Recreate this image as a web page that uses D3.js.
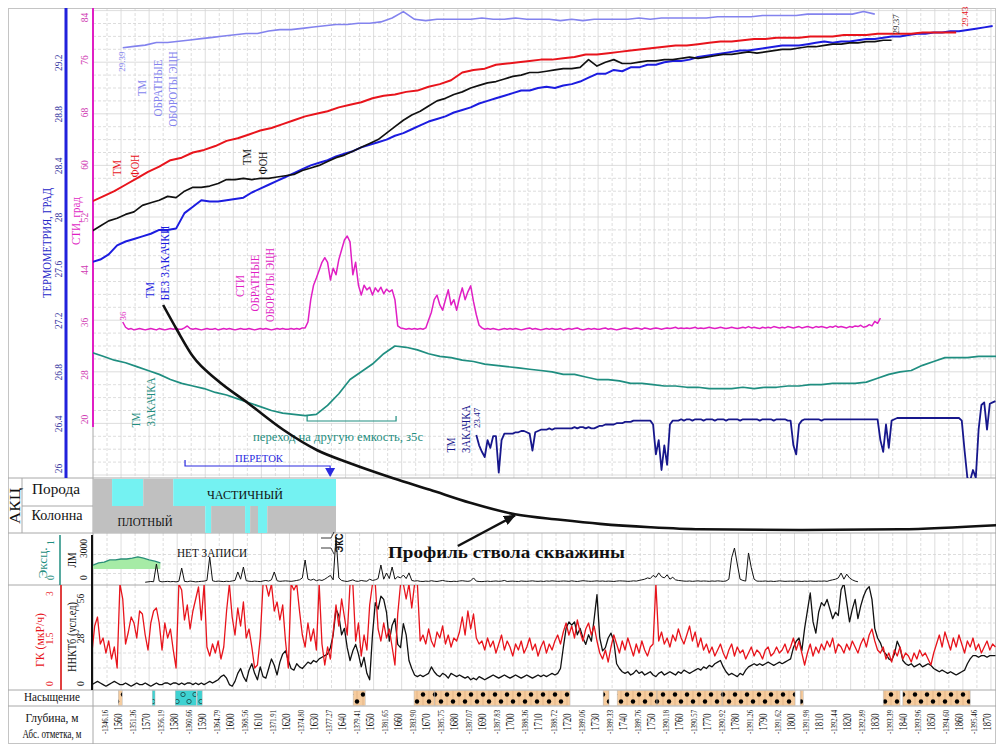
<!DOCTYPE html>
<html lang="ru">
<head>
<meta charset="utf-8">
<title>Термометрия скважины</title>
<script src="https://cdn.jsdelivr.net/npm/d3@7/dist/d3.min.js"></script>
<style>
  html, body { margin: 0; padding: 0; background: #fff; }
  svg { display: block; }
</style>
</head>
<body>
<svg id="chart" width="996" height="744"></svg>
<script>
// ---------- depth axis ----------
const depthTicks = [1560,1570,1580,1590,1600,1610,1620,1630,1640,1650,1660,1670,1680,1690,1700,1710,
  1720,1730,1740,1750,1760,1770,1780,1790,1800,1810,1820,1830,1840,1850,1860,1870];
const absDepths = [1555,1565,1575,1585,1595,1605,1615,1625,1635,1645,1655,1665,1675,1685,1695,1705,
  1715,1725,1735,1745,1755,1765,1775,1785,1795,1805,1815,1825,1835,1845,1855,1865];
const absLabels = ["-1346.16","-1351.36","-1356.19","-1360.66","-1364.79","-1368.56","-1371.91","-1374.80",
  "-1377.27","-1379.41","-1381.65","-1383.90","-1385.75","-1387.07","-1387.83","-1388.36","-1388.72",
  "-1389.06","-1389.33","-1389.76","-1390.18","-1390.57","-1390.92","-1391.26","-1391.62","-1391.98",
  "-1392.44","-1392.89","-1393.39","-1393.96","-1394.60","-1395.46"];
const tempTicks = [26, 26.4, 26.8, 27.2, 27.6, 28, 28.4, 28.8, 29.2];
const stiTicks = [20, 28, 36, 44, 52, 60, 68, 76, 84];

// ---------- thermometry, °C (start depth, step m, values) ----------
const tmFonRedStart = 1549.6, tmFonRedStep = 4;
const tmFonRed = [28.12,28.16,28.20,28.25,28.30,28.35,28.39,28.44,28.46,28.50,
  28.52,28.55,28.59,28.61,28.64,28.67,28.69,28.72,28.75,28.78,
  28.80,28.82,28.85,28.87,28.89,28.92,28.94,28.95,28.97,28.98,
  29.01,29.03,29.06,29.12,29.14,29.15,29.18,29.19,29.20,29.21,
  29.22,29.22,29.23,29.24,29.26,29.26,29.27,29.28,29.29,29.30,
  29.31,29.32,29.33,29.33,29.34,29.35,29.36,29.36,29.37,29.38,
  29.38,29.39,29.39,29.39,29.40,29.40,29.40,29.41,29.41,29.41,
  29.42,29.42,29.42,29.42,29.43,29.43,29.43,29.43];

const tmFonBlackStart = 1549.6, tmFonBlackStep = 3;
const tmFonBlack = [27.89,27.93,27.97,27.99,28.02,28.04,28.09,28.11,28.13,28.16,
  28.15,28.20,28.23,28.23,28.24,28.26,28.29,28.29,28.30,28.29,
  28.30,28.30,28.31,28.32,28.33,28.36,28.38,28.40,28.43,28.46,
  28.48,28.51,28.54,28.57,28.60,28.65,28.70,28.75,28.79,28.82,
  28.86,28.90,28.92,28.95,28.97,29.00,29.02,29.04,29.05,29.07,
  29.09,29.10,29.12,29.12,29.13,29.14,29.15,29.15,29.16,29.22,
  29.17,29.20,29.22,29.19,29.19,29.20,29.21,29.21,29.22,29.22,
  29.23,29.24,29.23,29.24,29.25,29.26,29.26,29.27,29.28,29.27,
  29.28,29.29,29.30,29.30,29.31,29.32,29.32,29.33,29.34,29.34,
  29.35,29.35,29.36,29.36,29.37,29.37];

const tmNoInjStart = 1549.6, tmNoInjStep = 3;
const tmNoInj = [27.65,27.67,27.71,27.78,27.81,27.83,27.85,27.87,27.90,27.90,
  27.91,28.03,28.08,28.13,28.12,28.12,28.13,28.14,28.15,28.19,
  28.22,28.25,28.28,28.31,28.34,28.37,28.40,28.42,28.44,28.47,
  28.49,28.51,28.54,28.56,28.58,28.60,28.63,28.65,28.68,28.71,
  28.74,28.76,28.78,28.81,28.83,28.85,28.88,28.90,28.92,28.94,
  28.96,28.98,28.98,29.00,29.01,29.00,29.02,29.03,29.05,29.08,
  29.11,29.11,29.14,29.13,29.16,29.16,29.18,29.18,29.20,29.21,
  29.21,29.22,29.24,29.25,29.26,29.27,29.28,29.29,29.29,29.30,
  29.31,29.32,29.33,29.33,29.33,29.34,29.35,29.36,29.35,29.36,
  29.36,29.37,29.38,29.38,29.39,29.40,29.40,29.41,29.42,29.42,
  29.43,29.43,29.44,29.44,29.45,29.46,29.47,29.48];

const tmRevStart = 1560.6, tmRevStep = 4;
const tmRev = [29.39,29.40,29.41,29.43,29.43,29.44,29.45,29.46,29.47,29.48,
  29.49,29.50,29.50,29.52,29.53,29.53,29.54,29.55,29.56,29.57,
  29.57,29.58,29.58,29.59,29.62,29.67,29.61,29.60,29.61,29.61,
  29.61,29.61,29.62,29.61,29.61,29.62,29.61,29.61,29.61,29.60,
  29.61,29.60,29.61,29.61,29.61,29.61,29.62,29.61,29.62,29.62,
  29.62,29.62,29.62,29.63,29.63,29.63,29.63,29.64,29.64,29.64,
  29.64,29.65,29.65,29.65,29.65,29.65,29.67,29.65];

const tmInjStart = 1549.6, tmInjStep = 4;
const tmInj = [26.95,26.92,26.89,26.87,26.84,26.81,26.78,26.74,26.71,26.69,
  26.67,26.64,26.62,26.59,26.56,26.53,26.50,26.48,26.47,26.46,
  26.47,26.54,26.63,26.74,26.80,26.86,26.94,27.00,26.99,26.97,
  26.94,26.92,26.91,26.89,26.88,26.86,26.85,26.84,26.83,26.82,
  26.81,26.80,26.78,26.78,26.76,26.74,26.74,26.73,26.71,26.71,
  26.70,26.69,26.69,26.68,26.68,26.67,26.67,26.67,26.68,26.67,
  26.68,26.68,26.69,26.69,26.70,26.70,26.71,26.71,26.71,26.72,
  26.75,26.78,26.80,26.81,26.85,26.88,26.91,26.91,26.91,26.92,
  26.92,26.92];

const tmInj2Start = 1686.6, tmInj2Step = 1;
const tmInj2 = [23.47,23.39,23.34,23.30,23.43,23.37,23.46,23.46,23.18,23.43,
  23.48,23.48,23.48,23.48,23.49,23.49,23.50,23.50,23.49,23.48,
  23.35,23.49,23.50,23.51,23.51,23.51,23.52,23.51,23.52,23.52,
  23.52,23.52,23.52,23.52,23.52,23.53,23.52,23.53,23.53,23.52,
  23.53,23.52,23.52,23.53,23.54,23.54,23.55,23.55,23.55,23.55,
  23.56,23.56,23.56,23.57,23.57,23.57,23.58,23.58,23.58,23.58,
  23.58,23.58,23.58,23.55,23.32,23.43,23.20,23.39,23.24,23.55,
  23.58,23.58,23.58,23.59,23.58,23.59,23.59,23.58,23.59,23.59,
  23.59,23.58,23.59,23.59,23.59,23.58,23.59,23.59,23.59,23.58,
  23.59,23.59,23.59,23.59,23.58,23.59,23.59,23.59,23.59,23.59,
  23.59,23.58,23.59,23.59,23.59,23.59,23.58,23.59,23.59,23.59,
  23.59,23.58,23.58,23.39,23.32,23.55,23.58,23.59,23.59,23.59,
  23.59,23.59,23.59,23.58,23.59,23.59,23.59,23.59,23.59,23.59,
  23.59,23.59,23.59,23.59,23.59,23.59,23.59,23.59,23.59,23.59,
  23.59,23.59,23.59,23.59,23.43,23.34,23.55,23.37,23.58,23.59,
  23.60,23.60,23.60,23.60,23.60,23.60,23.60,23.60,23.60,23.60,
  23.60,23.60,23.60,23.60,23.60,23.60,23.60,23.60,23.60,23.60,
  23.60,23.60,23.60,23.58,23.35,23.14,23.12,23.20,23.14,23.51,
  23.70,23.72,23.51,23.71,23.72,23.73];

// ---------- СТИ, град ----------
const stiStart = 1560.6, stiStep = 1;
const sti = [36.0,35.2,34.9,35.0,34.8,34.9,35.0,34.9,34.8,34.9,
  35.0,34.9,34.8,35.0,34.9,34.8,34.9,35.0,34.9,35.0,
  34.9,34.9,35.1,35.4,35.0,34.9,35.0,34.9,34.8,34.9,
  35.0,34.9,34.9,35.0,34.8,34.9,35.0,34.9,35.0,34.9,
  34.8,34.9,35.0,34.9,34.9,35.0,34.9,34.8,34.9,35.0,
  34.9,35.0,34.9,34.8,34.9,35.0,34.9,35.0,34.9,34.9,
  35.0,34.9,35.0,34.9,35.1,35.1,36.0,39.4,41.6,42.7,
  43.9,45.1,45.8,45.1,42.4,44.2,43.2,45.5,47.0,48.5,
  49.1,48.2,43.2,45.1,41.6,40.1,41.6,40.9,41.3,40.1,
  41.2,40.6,41.3,40.3,41.0,40.6,40.9,39.4,35.4,35.1,
  35.0,34.9,35.0,34.9,35.0,34.9,35.0,34.9,35.1,36.3,
  37.5,39.4,40.1,38.6,37.8,39.4,40.9,38.6,39.4,37.8,
  39.7,41.2,39.4,40.6,41.5,39.1,37.1,35.5,35.1,34.9,
  35.0,34.9,35.0,34.9,34.8,34.9,35.0,34.9,35.0,34.9,
  35.0,34.9,34.8,34.9,35.0,35.1,34.9,35.0,34.9,34.8,
  34.9,35.0,34.9,35.0,34.9,34.9,35.0,34.8,34.9,35.0,
  34.9,35.0,35.1,34.9,34.8,34.9,35.0,34.9,35.0,34.9,
  34.9,35.0,35.1,34.9,35.0,34.9,34.8,34.9,35.0,35.1,
  35.0,34.9,35.0,35.1,35.0,34.9,35.1,35.0,34.9,35.0,
  35.1,35.0,34.9,35.0,35.1,35.0,35.1,35.2,35.0,35.1,
  35.0,35.1,35.0,35.1,35.2,35.0,35.1,35.0,35.1,35.2,
  35.1,35.0,35.1,35.2,35.1,35.0,35.1,35.2,35.1,35.0,
  35.1,35.2,35.1,35.3,35.1,35.2,35.1,35.0,35.2,35.1,
  35.2,35.1,35.3,35.2,35.1,35.2,35.1,35.3,35.2,35.1,
  35.2,35.3,35.1,35.2,35.3,35.2,35.1,35.3,35.2,35.3,
  35.2,35.1,35.3,35.2,35.4,35.2,35.3,35.2,35.1,35.3,
  35.2,35.4,35.3,35.5,35.2,35.3,35.6,35.4,36.1,35.8,
  36.6];

// ---------- well bore profile (measured depth, m / elevation, m) ----------
const profileMD = [1575.0,1580.0,1585.7,1594.2,1605.3,1617.8,1629.9,1641.6,1657.0,1670.1,1684.4,
  1700.4,1716.5,1730.7,1748.6,1766.4,1802.0,1837.6,1871.9];
const profileZ = [-1357.0,-1360.7,-1364.6,-1368.0,-1371.4,-1375.3,-1378.3,-1380.2,-1382.4,-1384.1,-1386.0,
  -1387.7,-1388.5,-1389.1,-1389.6,-1389.9,-1390.0,-1389.9,-1389.3];

// ---------- АКЦ ----------
const akcRockFrom  = [1550, 1556.8, 1567.9, 1578.6];
const akcRockTo    = [1556.8, 1567.9, 1578.6, 1636.6];
const akcRockState = ["плотный","частичный","плотный","частичный"];
const akcCasingFrom  = [1550, 1590.0, 1592.1, 1604.2, 1606.0, 1608.8, 1612.1];
const akcCasingTo    = [1590.0, 1592.1, 1604.2, 1606.0, 1608.8, 1612.1, 1636.6];
const akcCasingState = ["плотный","частичный","плотный","частичный","плотный","частичный","плотный"];

// ---------- Эксц. / ЛМ ----------
const excStart = 1550, excStep = 2, excBase = 0.27;
const exc = [0.36,0.41,0.43,0.48,0.48,0.50,0.50,0.52,0.55,0.52,0.48,0.45,0.41];
const lmStart = 1568.6, lmStep = 1;
const lm = [60,90,120,100,1500,150,90,110,130,100,
  120,90,140,1180,130,100,150,120,90,110,
  130,150,200,2050,180,120,150,130,110,140,
  120,160,200,870,300,1260,180,140,120,150,
  130,110,160,200,150,250,870,180,130,150,
  170,150,130,160,200,250,400,1815,300,220,
  300,180,250,200,300,450,600,250,3630,400,
  200,150,120,180,250,150,130,200,160,140,
  300,200,250,350,1420,300,790,350,1260,300,
  500,400,630,350,800,200,150,180,130,120,
  150,130,180,140,120,160,200,150,130,110,
  140,120,160,180,150,130,170,400,150,120,
  110,130,150,120,140,160,130,150,200,120,
  140,150,130,120,160,140,130,150,170,140,
  130,150,120,160,140,170,150,130,140,160,
  150,130,170,140,120,150,180,160,140,130,
  150,170,140,160,130,150,140,120,150,170,
  160,150,130,140,170,150,200,250,300,400,
  350,600,450,800,500,400,650,300,450,250,
  200,180,150,140,160,130,150,170,140,160,
  150,130,160,140,170,150,130,160,300,2000,
  2760,1500,300,200,150,2370,1200,300,150,140,
  140,160,130,150,120,140,170,150,130,140,
  150,130,160,140,120,150,130,160,140,130,
  150,140,160,130,200,250,300,400,790,300,
  700,400,250,150,100];
const eksDepth = 1636.6;

// ---------- ГК (мкР/ч) and ННКТб (усл.ед) ----------
const gkStart = 1549.6, gkStep = 1;
const gk = [1.0,1.9,2.2,1.3,1.5,1.0,1.4,0.8,1.2,0.5,
  3.3,2.8,1.3,1.7,2.2,2.0,1.5,2.4,2.3,1.6,
  1.1,2.0,2.4,2.5,2.0,1.1,2.0,1.5,1.8,1.1,
  0.5,3.3,3.1,2.1,2.6,1.8,2.4,2.8,3.2,2.1,
  3.3,1.2,0.9,1.3,1.0,1.4,0.8,1.2,2.4,3.3,
  2.2,1.6,2.5,1.9,2.7,1.5,1.8,1.2,0.5,0.6,
  1.5,3.3,3.3,2.9,3.3,2.4,2.7,2.1,2.6,1.4,
  0.5,3.3,3.1,3.3,2.4,1.6,1.2,2.0,1.4,1.8,
  1.1,3.3,1.3,0.6,1.2,0.8,1.7,2.6,1.9,2.8,
  2.2,1.6,3.3,3.3,1.4,2.0,0.9,1.6,1.1,2.6,
  3.3,3.3,1.8,1.4,2.0,1.5,1.8,1.2,0.6,2.3,
  3.3,3.3,2.8,3.3,2.5,3.3,3.3,1.4,
  1.6,1.3,1.8,1.4,1.2,1.7,1.5,1.9,1.3,1.6,
  1.2,1.5,1.4,1.7,2.2,1.6,2.4,1.8,2.3,1.5,
  1.3,1.4,1.1,1.5,1.2,1.4,1.0,1.3,1.6,1.1,
  1.4,1.2,0.9,1.3,1.1,1.4,1.0,1.2,1.5,1.1,
  1.3,0.9,1.2,1.4,1.0,1.3,1.1,1.4,1.6,1.3,
  1.7,2.0,1.6,1.9,1.5,2.1,1.7,1.4,1.8,2.0,
  1.6,1.9,1.4,1.0,0.8,1.1,0.7,1.2,1.6,1.3,
  1.0,1.4,1.1,1.5,1.2,0.9,1.3,1.0,1.4,1.1,
  0.9,1.2,1.3,3.3,1.4,1.7,1.3,1.5,1.2,1.6,
  1.4,1.8,1.5,1.3,1.6,1.9,1.4,1.7,1.2,1.5,
  1.1,1.3,1.0,1.2,0.9,1.1,1.3,1.0,0.8,1.1,
  1.3,0.9,1.2,1.0,1.1,0.8,1.0,1.2,0.9,1.1,
  1.0,0.8,1.1,1.2,0.9,1.0,1.2,1.0,1.1,1.3,
  1.0,1.2,1.5,1.1,1.4,1.0,0.6,1.0,1.3,0.9,
  1.2,1.0,1.3,1.1,1.4,1.2,1.5,1.0,1.3,1.2,
  1.0,1.3,1.1,1.4,1.2,1.0,1.3,1.5,1.2,1.6,
  1.8,1.4,1.1,1.0,1.2,0.8,1.0,0.7,1.1,0.9,
  1.2,0.8,1.0,0.9,0.7,1.0,0.8,1.1,0.9,1.0,
  0.8,0.6,1.0,1.3,1.6,1.2,1.7,1.4,1.1,1.5,
  1.2,1.6,1.3,1.0,1.4,1.2,1.5,1.1,1.3,1.0,
  1.2,1.4,1.1,1.3,1.2];
const nnktStart = 1549.6, nnktStep = 1;
const nnkt = [-1,0,1,0,-1,-2,-1,0,1,0,
  -1,-1,0,-1,-2,-1,0,-1,-1,0,
  -1,-2,-1,0,-1,-1,0,0,-1,0,
  0,-1,0,-1,0,0,-1,0,-1,0,
  -1,0,1,0,1,2,4,5,3,-1,
  -2,1,6,9,4,1,8,12,6,2,
  10,4,3,9,15,11,5,13,18,20,
  14,9,8,12,10,9,11,13,12,14,
  13,15,16,17,18,22,30,46,42,30,
  34,22,14,20,24,18,10,16,6,2,
  30,50,46,54,52,44,26,36,40,24,
  22,37,30,14,9,5,4,5,4,5,
  6,10,7,5,4,6,5,3,6,5,
  4,5,4,3,4,2,3,2,4,3,
  2,3,4,5,4,3,4,5,4,3,
  4,5,4,3,4,5,4,3,4,5,
  4,5,4,5,6,5,6,9,22,34,
  38,36,38,30,34,28,24,30,26,40,
  55,28,20,22,28,31,26,12,9,7,
  6,7,5,6,8,6,7,5,6,7,
  5,4,6,7,5,6,7,6,5,7,
  6,8,7,6,7,8,9,8,10,9,
  11,10,12,13,14,10,7,5,6,5,
  4,6,5,8,10,11,12,11,12,11,
  12,13,12,11,12,13,12,13,14,15,
  22,26,28,20,34,45,56,38,31,44,
  50,48,52,46,40,44,42,58,62,50,
  38,46,52,40,48,54,58,60,52,34,
  28,25,20,18,15,14,18,26,22,14,
  12,11,12,10,11,12,10,11,12,11,
  9,8,7,8,7,6,7,6,5,6,
  7,8,12,15,17,17,16,17,17,16,
  17,17,17];

// ---------- Насыщение ----------
const satFrom = [1559.0,1571.1,1579.3,1587.1,1642.7,1664.4,1671.6,1731.8,1736.8,1751.0,1774.2,1802.0,1831.6,1838.6];
const satTo   = [1560.4,1572.1,1586.8,1588.9,1647.0,1671.6,1720.0,1733.9,1751.0,1774.2,1800.2,1803.1,1837.6,1862.6];
const satType = ["нефть","вода","вода","вода","нефть","нефть","нефть","нефть","нефть","нефть","нефть","нефть","нефть","нефть"];

// ---------- annotation intervals ----------
const crossflowFrom = 1582.8, crossflowTo = 1634.5;     // ПЕРЕТОК
const tankSwitchFrom = 1626.3, tankSwitchTo = 1658.0;   // переход на другую емкость

// =====================================================================
const svg = d3.select("#chart");
const SERIF = "'Liberation Serif','Times New Roman',serif";
const SANS = "'Liberation Sans',Arial,sans-serif";
const COL = {
  red: "#e8141c", black: "#111111", blue: "#1c1ce0", lav: "#8383ee", mag: "#e01fc4",
  teal: "#1f8e80", navy: "#17178c", grid: "#d4d4d4", sep: "#a8a8a8",
  cyan: "#74f2f2", gray: "#c0c0c0"
};
const ROW = { top: [8, 478], akc: [478, 533], exc: [533, 585], gk: [585, 690], sat: [690, 706], dep: [706, 744] };

const x = d3.scaleLinear().domain([1550, 1871.8]).range([93, 996]);
const yT = d3.scaleLinear().domain([26, 29.2]).range([475, 62.2]);
const yRev = d3.scaleLinear().domain([26, 29.2]).range([485, 72.2]);
const ySti = d3.scaleLinear().domain([20, 84]).range([427, 7]);
const yInj = d3.scaleLinear().domain([23, 24]).range([496, 366]);
const yProf = d3.scaleLinear().domain([-1357, -1390]).range([305, 530]);
const yExc = d3.scaleLinear().domain([0, 1]).range([581, 537]);
const yLM = d3.scaleLinear().domain([0, 3000]).range([583, 545]);
const yGK = d3.scaleLinear().domain([0, 3]).range([683, 593]);
const yNK = d3.scaleLinear().domain([0, 56]).range([683, 593]);

const series = (start, step, vals) => vals.map((v, i) => ({ d: start + i * step, v }));
const clampV = (v, lo, hi) => Math.max(lo, Math.min(hi, v));

const defs = svg.append("defs");
function addClip(id, y0, y1) {
  defs.append("clipPath").attr("id", id).append("rect")
    .attr("x", 93).attr("y", y0).attr("width", 903).attr("height", y1 - y0);
}
addClip("clipTop", ROW.top[0], ROW.top[1]);
addClip("clipExc", ROW.exc[0], ROW.exc[1]);
addClip("clipGk", ROW.gk[0], ROW.gk[1]);

// saturation fill patterns
const pOil = defs.append("pattern").attr("id", "patOil").attr("patternUnits", "userSpaceOnUse")
  .attr("x", 0).attr("y", ROW.sat[0]).attr("width", 12).attr("height", 16);
pOil.append("rect").attr("width", 12).attr("height", 16).attr("fill", "#f6cc9e");
[3, 9].forEach(px => pOil.append("line").attr("x1", px).attr("x2", px).attr("y1", 0).attr("y2", 16)
  .attr("stroke", "#d8a878").attr("stroke-width", 0.6));
pOil.append("circle").attr("cx", 3).attr("cy", 4.5).attr("r", 2.2).attr("fill", "#000");
pOil.append("circle").attr("cx", 9).attr("cy", 11.5).attr("r", 2.2).attr("fill", "#000");
const pWat = defs.append("pattern").attr("id", "patWater").attr("patternUnits", "userSpaceOnUse")
  .attr("x", 0).attr("y", ROW.sat[0]).attr("width", 12).attr("height", 16);
pWat.append("rect").attr("width", 12).attr("height", 16).attr("fill", "#3ed2d2");
pWat.append("circle").attr("cx", 3).attr("cy", 4.5).attr("r", 2.2).attr("fill", "none").attr("stroke", "#20504f").attr("stroke-width", 0.9);
pWat.append("circle").attr("cx", 9).attr("cy", 11.5).attr("r", 2.2).attr("fill", "none").attr("stroke", "#20504f").attr("stroke-width", 0.9);

// arrow head for the profile annotation
defs.append("marker").attr("id", "arrowHead").attr("viewBox", "0 0 12 10").attr("refX", 11).attr("refY", 5)
  .attr("markerWidth", 12).attr("markerHeight", 10).attr("markerUnits", "userSpaceOnUse").attr("orient", "auto")
  .append("path").attr("d", "M0,0 L12,5 L0,10 z").attr("fill", "#111");

// ---------- grids ----------
const gridG = svg.append("g");
function vGrid(y0, y1) {
  gridG.append("g").selectAll("line").data(d3.range(1555, 1872, 5)).join("line")
    .attr("x1", d => x(d)).attr("x2", d => x(d)).attr("y1", y0).attr("y2", y1)
    .attr("stroke", COL.grid).attr("stroke-width", 0.8)
    .attr("stroke-dasharray", d => d % 10 === 0 ? null : "3,2");
}
function hGrid(vals, scale, isMajor) {
  gridG.append("g").selectAll("line").data(vals).join("line")
    .attr("x1", 93).attr("x2", 996).attr("y1", d => scale(d)).attr("y2", d => scale(d))
    .attr("stroke", COL.grid).attr("stroke-width", 0.8)
    .attr("stroke-dasharray", (d, i) => isMajor(d, i) ? null : "3,2");
}
vGrid(ROW.top[0], ROW.top[1]);
hGrid(d3.range(0, 37).map(i => 26 + i * 0.1), yT, (d, i) => i % 4 === 0);
vGrid(ROW.exc[0], ROW.exc[1]);
hGrid([750, 1500, 2250], yLM, () => false);
vGrid(ROW.gk[0], ROW.gk[1]);
hGrid([0.5, 1, 1.5, 2, 2.5], yGK, d => d === 1.5);

// ---------- frame & separators ----------
svg.append("rect").attr("x", 8.5).attr("y", 8.5).attr("width", 987).attr("height", 735)
  .attr("fill", "none").attr("stroke", "#c4c4c4");
[ROW.top[1], ROW.akc[1], ROW.exc[1], ROW.gk[1], ROW.sat[1]].forEach(yy =>
  svg.append("line").attr("x1", 8).attr("x2", 996).attr("y1", yy).attr("y2", yy).attr("stroke", COL.sep));
svg.append("line").attr("x1", 93).attr("x2", 93).attr("y1", 8).attr("y2", 744).attr("stroke", COL.sep);
svg.append("line").attr("x1", 22).attr("x2", 22).attr("y1", ROW.akc[0]).attr("y2", ROW.akc[1]).attr("stroke", COL.sep);
svg.append("line").attr("x1", 22).attr("x2", 93).attr("y1", 506).attr("y2", 506).attr("stroke", COL.sep);

// ---------- helpers for text ----------
function vText(txt, cx, cy, color, size, len, font, weight) {
  const t = svg.append("text")
    .attr("transform", `translate(${cx + size * 0.34},${cy}) rotate(-90)`)
    .attr("text-anchor", "middle").attr("font-family", font || SERIF).attr("font-size", size)
    .attr("fill", color).text(txt);
  if (weight) t.attr("font-weight", weight);
  if (len) t.attr("textLength", len).attr("lengthAdjust", "spacingAndGlyphs");
  return t;
}
function hText(txt, px, py, color, size, len, anchor, weight) {
  const t = svg.append("text").attr("x", px).attr("y", py).attr("fill", color)
    .attr("font-family", SERIF).attr("font-size", size).attr("text-anchor", anchor || "start").text(txt);
  if (weight) t.attr("font-weight", weight);
  if (len) t.attr("textLength", len).attr("lengthAdjust", "spacingAndGlyphs");
  return t;
}
// rotated tick labels on a vertical axis
function vAxis(scale, ticks, baseX, lo, hi, color, fmt) {
  const g = svg.append("g").attr("transform", `translate(${baseX},0)`)
    .call(d3.axisLeft(scale).tickValues(ticks).tickSize(0).tickPadding(0).tickFormat(fmt || (d => String(d))));
  g.select(".domain").remove();
  g.selectAll("text")
    .attr("transform", "rotate(-90)")
    .attr("x", d => -(clampV(scale(d), lo, hi) - scale(d)))
    .attr("y", 0).attr("dy", 0).attr("text-anchor", "middle")
    .attr("fill", color).attr("font-family", SERIF).attr("font-size", 9.5);
  return g;
}

// ---------- top panel: axes ----------
svg.append("line").attr("x1", 66).attr("x2", 66).attr("y1", 8).attr("y2", 478).attr("stroke", "#2121dc").attr("stroke-width", 3);
vAxis(yT, tempTicks, 61.5, 18, 468, "#34349e");
vText("ТЕРМОМЕТРИЯ, ГРАД", 47, 243, "#2424c8", 13, 110);
svg.append("line").attr("x1", 93).attr("x2", 93).attr("y1", 8).attr("y2", 427).attr("stroke", COL.mag).attr("stroke-width", 2);
vAxis(ySti, stiTicks, 88.3, 17, 419, "#cf3bb3");
vText("СТИ, град", 76, 221, COL.mag, 13, 48);

// ---------- top panel: curves ----------
const topG = svg.append("g").attr("clip-path", "url(#clipTop)");
function drawCurve(parent, data, yScale, color, width) {
  return parent.append("path").datum(data).attr("fill", "none").attr("stroke", color)
    .attr("stroke-width", width).attr("stroke-linejoin", "round")
    .attr("d", d3.line().x(p => x(p.d)).y(p => yScale(p.v)));
}
const revData = series(tmRevStart, tmRevStep, tmRev);
const stiData = series(stiStart, stiStep, sti);
const injData = series(tmInjStart, tmInjStep, tmInj);
const inj2Data = series(tmInj2Start, tmInj2Step, tmInj2);
const noInjData = series(tmNoInjStart, tmNoInjStep, tmNoInj);
const fonBlackData = series(tmFonBlackStart, tmFonBlackStep, tmFonBlack);
const fonRedData = series(tmFonRedStart, tmFonRedStep, tmFonRed);

drawCurve(topG, revData, yRev, COL.lav, 1.6);
drawCurve(topG, stiData, ySti, COL.mag, 1.5);
drawCurve(topG, injData, yT, COL.teal, 1.7);
drawCurve(topG, inj2Data, yInj, COL.navy, 1.8);
drawCurve(topG, noInjData, yT, COL.blue, 2);
drawCurve(topG, fonBlackData, yT, COL.black, 1.7);
drawCurve(topG, fonRedData, yT, COL.red, 2);

// value labels at curve ends
function endLabel(p, yScale, dx, dy, color) {
  vText(p.v.toFixed(2).replace(/\.00$/, ""), x(p.d) + dx, yScale(p.v) + dy, color, 9, null);
}
endLabel(revData[0], yRev, -1, 14, COL.lav);
vText(String(Math.round(stiData[0].v)), x(stiData[0].d) + 0.5, ySti(stiData[0].v) - 6, COL.mag, 9, null);
endLabel(fonBlackData[fonBlackData.length - 1], yT, 4, -16, "#333");
endLabel(fonRedData[fonRedData.length - 1], yT, 9, -16, COL.red);
endLabel(inj2Data[0], yInj, 1, -17, COL.navy);

// curve captions
vText("ТМ", 142, 88, COL.lav, 13, 16);
vText("ОБРАТНЫЕ", 158, 88, COL.lav, 13, 57);
vText("ОБОРОТЫ ЭЦН", 173, 89, COL.lav, 13, 75);
vText("ТМ", 117, 168, COL.red, 13, 16);
vText("ФОН", 135, 166, COL.red, 13, 23);
vText("ТМ", 247, 157, COL.black, 13, 16);
vText("ФОН", 263, 163, COL.black, 13, 23);
vText("ТМ", 150, 290, COL.blue, 13, 16);
vText("БЕЗ ЗАКАЧКИ", 165, 263, COL.blue, 13, 75);
vText("СТИ", 240, 286, COL.mag, 13, 22);
vText("ОБРАТНЫЕ", 255, 283, COL.mag, 13, 57);
vText("ОБОРОТЫ ЭЦН", 270, 285, COL.mag, 13, 74);
vText("ТМ", 136, 420, COL.teal, 13, 15);
vText("ЗАКАЧКА", 151, 402, COL.teal, 13, 49);
vText("ТМ", 451, 445, COL.navy, 13, 15);
vText("ЗАКАЧКА", 466, 429, COL.navy, 13, 48);

// tank switch bracket
const tsG = svg.append("g").attr("stroke", COL.teal).attr("stroke-width", 1.2).attr("fill", "none");
tsG.append("path").attr("d",
  `M${x(tankSwitchFrom)},416 V421 H${x(tankSwitchTo)} V416`);
hText("переход на другую емкость, з5с", 253, 441, COL.teal, 13, 170);

// crossflow marker
const cfG = svg.append("g").attr("stroke", "#2a2ae0").attr("stroke-width", 1.2).attr("fill", "none");
cfG.append("path").attr("d", `M${x(crossflowFrom)},460 V466 H${x(crossflowTo)} V470`);
svg.append("path").attr("d", `M${x(crossflowTo) - 5},468 L${x(crossflowTo) + 5},468 L${x(crossflowTo)},477 Z`).attr("fill", "#2a2ae0");
hText("ПЕРЕТОК", 235, 462, "#2a2ae0", 11, 48);

// ---------- АКЦ ----------
const akcColor = s => s === "частичный" ? COL.cyan : COL.gray;
svg.append("g").selectAll("rect").data(akcRockFrom.map((f, i) => ({ f, t: akcRockTo[i], s: akcRockState[i] }))).join("rect")
  .attr("x", d => x(d.f)).attr("width", d => x(d.t) - x(d.f)).attr("y", 479).attr("height", 27).attr("fill", d => akcColor(d.s));
svg.append("g").selectAll("rect").data(akcCasingFrom.map((f, i) => ({ f, t: akcCasingTo[i], s: akcCasingState[i] }))).join("rect")
  .attr("x", d => x(d.f)).attr("width", d => x(d.t) - x(d.f)).attr("y", 506).attr("height", 27).attr("fill", d => akcColor(d.s));
hText("ЧАСТИЧНЫЙ", 245, 499, "#111", 12, 76, "middle");
hText("ПЛОТНЫЙ", 145, 526, "#111", 12, 55, "middle");
vText("АКЦ", 15, 506, "#111", 15, 36);
hText("Порода", 56, 494, "#111", 14, 48, "middle");
hText("Колонна", 57, 520, "#111", 14, 51, "middle");

// ---------- Эксц. / ЛМ ----------
svg.append("line").attr("x1", 60).attr("x2", 60).attr("y1", 535).attr("y2", 585).attr("stroke", COL.teal).attr("stroke-width", 1.5);
svg.append("line").attr("x1", 92).attr("x2", 92).attr("y1", 535).attr("y2", 585).attr("stroke", "#111").attr("stroke-width", 2);
vText("Эксц.", 43, 563, COL.teal, 13, 31);
vAxis(yExc, [0, 1], 54, 542, 577, COL.teal);
vText("ЛМ", 72, 560, "#111", 13, 15);
vAxis(yLM, [0, 3000], 86.5, 548, 577, "#111");

const excG = svg.append("g").attr("clip-path", "url(#clipExc)");
const excData = series(excStart, excStep, exc);
excG.append("path").datum(excData).attr("fill", "#a6eba6")
  .attr("d", d3.area().x(p => x(p.d)).y0(yExc(excBase)).y1(p => yExc(p.v)));
drawCurve(excG, excData, yExc, "#2a8f78", 1.3);
drawCurve(excG, series(lmStart, lmStep, lm), yLM, "#111", 1);
hText("НЕТ ЗАПИСИ", 212, 557, "#111", 12, 70, "middle");

// ЭКС marker
const ex = x(eksDepth);
svg.append("path").attr("d", `M${ex - 15},538 H${ex - 5} L${ex - 2},532 M${ex - 15},548 H${ex - 5} L${ex - 2},554`)
  .attr("fill", "none").attr("stroke", "#222").attr("stroke-width", 0.9);
vText("ЭКС", 340, 543, "#111", 10, 19, SANS, "bold");

// ---------- ГК / ННКТб ----------
svg.append("line").attr("x1", 61).attr("x2", 61).attr("y1", 585).attr("y2", 690).attr("stroke", "#e04040").attr("stroke-width", 2);
svg.append("line").attr("x1", 92).attr("x2", 92).attr("y1", 585).attr("y2", 690).attr("stroke", "#111").attr("stroke-width", 2);
vText("ГК (мкР/ч)", 40, 640, COL.red, 13, 54);
vAxis(yGK, [0, 1.5, 3], 53, 593, 683, COL.red);
vText("ННКТб (усл.ед)", 72, 637, "#111", 13, 70);
vAxis(yNK, [0, 28, 56], 83.5, 598, 683, "#111");

const gkG = svg.append("g").attr("clip-path", "url(#clipGk)");
drawCurve(gkG, series(nnktStart, nnktStep, nnkt), yNK, "#111", 1.3);
drawCurve(gkG, series(gkStart, gkStep, gk), yGK, COL.red, 1.3);

// ---------- Насыщение ----------
svg.append("g").selectAll("rect").data(satFrom.map((f, i) => ({ f, t: satTo[i], s: satType[i] }))).join("rect")
  .attr("x", d => x(d.f)).attr("width", d => x(d.t) - x(d.f)).attr("y", ROW.sat[0] + 0.5).attr("height", 15)
  .attr("fill", d => d.s === "вода" ? "url(#patWater)" : "url(#patOil)")
  .attr("stroke", "#b9b9b9").attr("stroke-width", 0.5);
hText("Насыщение", 52, 701, "#111", 13, 56, "middle");

// ---------- depth axes ----------
function depthAxis(ticks, fmt, size, len) {
  const g = svg.append("g").attr("transform", "translate(0,722)")
    .call(d3.axisBottom(x).tickValues(ticks).tickSize(0).tickPadding(0).tickFormat(fmt));
  g.select(".domain").remove();
  g.selectAll("text").attr("transform", "rotate(-90)").attr("x", 0).attr("y", 0).attr("dy", 0)
    .attr("text-anchor", "middle").attr("fill", "#111").attr("font-family", SERIF).attr("font-size", size)
    .attr("textLength", len).attr("lengthAdjust", "spacingAndGlyphs");
}
depthAxis(depthTicks, d => String(d), 11.5, 17);
depthAxis(absDepths, (d, i) => absLabels[i], 8.5, 24);
hText("Глубина, м", 52, 722, "#111", 12.5, 53, "middle");
hText("Абс. отметка, м", 52, 738, "#111", 12.5, 59, "middle");

// ---------- well bore profile ----------
const profData = profileMD.map((d, i) => ({ d, v: profileZ[i] }));
svg.append("path").datum(profData).attr("fill", "none").attr("stroke", "#111").attr("stroke-width", 2.6)
  .attr("d", d3.line().x(p => x(p.d)).y(p => yProf(p.v)).curve(d3.curveMonotoneX));
const tip = profData[11];
svg.append("line").attr("x1", x(1680)).attr("y1", 546).attr("x2", x(tip.d)).attr("y2", yProf(tip.v) + 1)
  .attr("stroke", "#111").attr("stroke-width", 2.4).attr("marker-end", "url(#arrowHead)");
hText("Профиль ствола скважины", 388, 558, "#111", 17, 237, "start", "bold");
</script>
</body>
</html>
